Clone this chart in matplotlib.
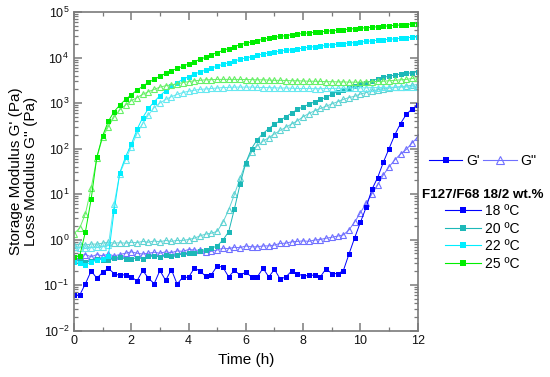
import matplotlib

matplotlib.use('Agg')
import matplotlib.pyplot as plt
import matplotlib.ticker as ticker
from matplotlib.lines import Line2D

plt.rcParams['font.family'] = ['Liberation Sans', 'DejaVu Sans']
plt.rcParams['mathtext.fontset'] = 'custom'
plt.rcParams['mathtext.rm'] = 'Liberation Sans'

# time (h), one point every 0.2 h
time_h = [0.0, 0.2, 0.4, 0.6, 0.8, 1.0, 1.2, 1.4, 1.6, 1.8,
          2.0, 2.2, 2.4, 2.6, 2.8, 3.0, 3.2, 3.4, 3.6, 3.8,
          4.0, 4.2, 4.4, 4.6, 4.8, 5.0, 5.2, 5.4, 5.6, 5.8,
          6.0, 6.2, 6.4, 6.6, 6.8, 7.0, 7.2, 7.4, 7.6, 7.8,
          8.0, 8.2, 8.4, 8.6, 8.8, 9.0, 9.2, 9.4, 9.6, 9.8,
          10.0, 10.2, 10.4, 10.6, 10.8, 11.0, 11.2, 11.4, 11.6, 11.8, 12.0]

# 18 ºC
g1_18 = [0.060, 0.060, 0.107, 0.204, 0.141, 0.190, 0.234, 0.178, 0.162, 0.170,
         0.151, 0.123, 0.209, 0.141, 0.107, 0.209, 0.126, 0.219, 0.105, 0.148,
         0.148, 0.234, 0.204, 0.155, 0.170, 0.263, 0.245, 0.151, 0.209, 0.166,
         0.190, 0.151, 0.151, 0.234, 0.151, 0.221, 0.135, 0.151, 0.204, 0.178,
         0.158, 0.162, 0.166, 0.151, 0.229, 0.178, 0.178, 0.204, 0.479, 1.10,
         2.40, 5.10, 12.6, 22.9, 50.0, 100, 200, 355, 562, 741, 912]
g2_18 = [0.417, 0.437, 0.468, 0.417, 0.468, 0.437, 0.479, 0.437, 0.468, 0.500,
         0.537, 0.500, 0.479, 0.500, 0.525, 0.500, 0.537, 0.513, 0.562, 0.550,
         0.603, 0.589, 0.575, 0.537, 0.550, 0.589, 0.646, 0.631, 0.676, 0.661,
         0.724, 0.692, 0.692, 0.724, 0.724, 0.759, 0.822, 0.832, 0.891, 0.912,
         0.933, 0.912, 0.977, 1.00, 1.07, 1.12, 1.19, 1.26, 1.62, 2.45,
         3.89, 6.31, 10.0, 15.8, 26.3, 39.8, 56.2, 75.9, 95.5, 132, 178]

# 20 ºC
g1_20 = [0.339, 0.339, 0.316, 0.339, 0.380, 0.355, 0.363, 0.398, 0.417, 0.380,
         0.372, 0.398, 0.380, 0.437, 0.437, 0.417, 0.457, 0.437, 0.468, 0.479,
         0.500, 0.500, 0.562, 0.603, 0.646, 0.724, 0.977, 1.48, 4.68, 16.6,
         49.0, 100, 158, 214, 275, 339, 417, 501, 603, 724,
         832, 933, 1070, 1200, 1330, 1550, 1780, 1950, 2090, 2340,
         2630, 2820, 3090, 3390, 3670, 3890, 4120, 4340, 4470, 4630, 4900]
g2_20 = [0.759, 0.794, 0.759, 0.794, 0.794, 0.832, 0.871, 0.832, 0.851, 0.832,
         0.871, 0.851, 0.912, 0.871, 0.933, 0.891, 0.955, 0.912, 0.955, 0.955,
         1.00, 1.07, 1.20, 1.32, 1.38, 1.51, 2.40, 4.47, 9.77, 22.4,
         49.0, 83.0, 115, 145, 174, 209, 251, 295, 347, 407,
         501, 589, 676, 759, 851, 955, 1070, 1200, 1320, 1410,
         1580, 1700, 1820, 1950, 2040, 2140, 2210, 2290, 2370, 2450, 2570]

# 22 ºC
g1_22 = [0.316, 0.302, 0.282, 0.316, 0.355, 0.372, 0.437, 4.27, 29.5, 66.0,
         123, 263, 479, 759, 1070, 1450, 1860, 2340, 2820, 3310,
         3800, 4340, 4800, 5310, 5870, 6500, 7080, 7690, 8370, 9120,
         9750, 10400, 11200, 11900, 12600, 13200, 13900, 14400, 14800, 15400,
         16200, 16800, 17400, 17900, 18500, 19100, 19700, 20300, 20800, 21400,
         22000, 22600, 23300, 23900, 24500, 25200, 25800, 26500, 27200, 27900, 28600]
g2_22 = [0.676, 0.661, 0.646, 0.661, 0.676, 0.692, 0.741, 6.00, 28.2, 56.2,
         110, 214, 355, 550, 794, 1000, 1200, 1380, 1550, 1700,
         1820, 1910, 2000, 2040, 2090, 2140, 2190, 2210, 2240, 2240,
         2240, 2240, 2210, 2190, 2190, 2160, 2140, 2140, 2110, 2090,
         2090, 2090, 2070, 2070, 2090, 2090, 2110, 2110, 2140, 2140,
         2160, 2160, 2190, 2190, 2210, 2210, 2240, 2240, 2260, 2260, 2290]

# 25 ºC
g1_25 = [0.417, 0.437, 1.48, 7.76, 66.0, 191, 398, 646, 904, 1200,
         1510, 1930, 2330, 2850, 3310, 3860, 4490, 5130, 5750, 6400,
         7240, 8130, 9120, 10200, 11500, 12900, 14300, 15800, 17400, 19100,
         20700, 22100, 23700, 25100, 26600, 27900, 29200, 30400, 31600, 32700,
         33900, 34900, 35700, 36900, 37700, 39000, 39900, 41100, 42000, 43300,
         44100, 45500, 46300, 47600, 48500, 49900, 50800, 52200, 53200, 54800, 56000]
g2_25 = [1.35, 1.78, 3.72, 13.5, 63.0, 178, 302, 490, 708, 912,
         1120, 1320, 1550, 1780, 2000, 2240, 2400, 2510, 2630, 2820,
         2950, 3090, 3160, 3240, 3270, 3310, 3310, 3310, 3310, 3300,
         3290, 3270, 3240, 3240, 3200, 3160, 3160, 3130, 3090, 3090,
         3050, 3020, 3020, 2990, 2950, 2950, 2920, 2920, 2880, 2880,
         2880, 2920, 2950, 2990, 3020, 3090, 3160, 3240, 3310, 3470, 3630]

temps = ['18 ºC', '20 ºC', '22 ºC', '25 ºC']
storage = [g1_18, g1_20, g1_22, g1_25]
loss = [g2_18, g2_20, g2_22, g2_25]
colors_g1 = ['#0000FF', '#1DB8B8', '#00EEFF', '#00EE00']
colors_g2 = ['#7070FF', '#5FD3D3', '#66E8F0', '#66F066']

fig = plt.figure(figsize=(5.5, 3.77), dpi=100)
ax = fig.add_axes([0.1345, 0.1233, 0.625, 0.8447])

for i in range(len(temps)):
    ax.plot(time_h, loss[i], color=colors_g2[i], lw=0.7, marker='^', ms=5,
            mfc='none', mec=colors_g2[i], mew=0.8)
    ax.plot(time_h, storage[i], color=colors_g1[i], lw=0.7, marker='s', ms=3.6,
            mfc=colors_g1[i], mec=colors_g1[i], mew=0)

ax.set_yscale('log')
ax.set_xlim(0, 12)
ax.set_ylim(1e-2, 1e5)
ax.xaxis.set_major_locator(ticker.MultipleLocator(2))
ax.xaxis.set_minor_locator(ticker.MultipleLocator(1))
ax.yaxis.set_major_locator(ticker.LogLocator(base=10, numticks=20))
ax.yaxis.set_minor_locator(ticker.LogLocator(base=10, subs=range(2, 10), numticks=20))
ax.yaxis.set_minor_formatter(ticker.NullFormatter())

axis_gray = '#7a7a7a'
for sp in ax.spines.values():
    sp.set_color(axis_gray)
    sp.set_linewidth(1.2)
ax.tick_params(which='both', direction='in', top=True, right=True,
               colors=axis_gray, labelcolor='#111111', labelsize=9)
ax.tick_params(which='major', length=6, width=1.1)
ax.tick_params(which='minor', length=3, width=0.9)

ax.set_xlabel('Time (h)', fontsize=11, labelpad=4)
ax.set_ylabel("Storage Modulus G' (Pa)\nLoss Modulus G'' (Pa)", fontsize=11,
              labelpad=4, linespacing=1.1)

# legend: G' / G''
h_g1 = Line2D([], [], color='#0000FF', marker='s', ms=4, lw=0.8, mew=0)
h_g2 = Line2D([], [], color='#7070FF', marker='^', ms=5.5, mfc='none', lw=0.8, mew=0.8)
fig.legend([h_g1, h_g2], ["G'", "G''"], ncol=2, loc='center left',
           bbox_to_anchor=(0.780, 0.573), frameon=False, fontsize=10,
           handlelength=2.4, columnspacing=0.3, handletextpad=0.25,
           borderpad=0, borderaxespad=0)

# legend: temperatures
handles = [Line2D([], [], color=c, marker='s', ms=4, lw=0.8, mew=0) for c in colors_g1]
fig.legend(handles, temps, title='F127/F68 18/2 wt.%', loc='upper left',
           bbox_to_anchor=(0.767, 0.499), frameon=False, fontsize=10,
           title_fontproperties={'weight': 'bold', 'size': 9.6},
           handlelength=2.6, handletextpad=0.3, labelspacing=0.25,
           borderpad=0, borderaxespad=0)

plt.savefig('out.png', dpi=100)
plt.close()
